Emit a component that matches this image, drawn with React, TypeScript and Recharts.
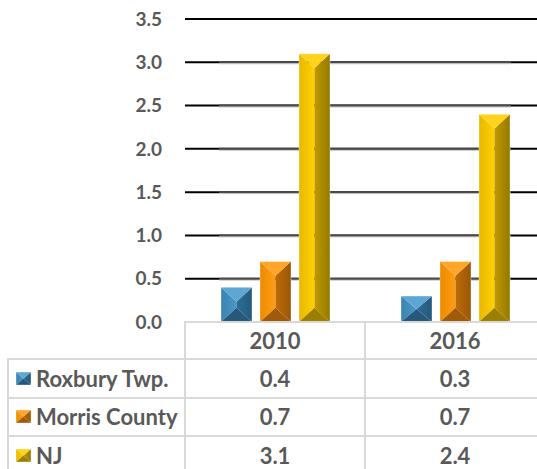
import React from 'react';
import { BarChart, Bar, XAxis, YAxis, CartesianGrid } from 'recharts';

const categories = ['2010', '2016'];
const seriesNames = ['Roxbury Twp.', 'Morris County', 'NJ'];
const roxbury = [0.4, 0.3];
const morris = [0.7, 0.7];
const nj = [3.1, 2.4];
const yTicks = [0, 0.5, 1.0, 1.5, 2.0, 2.5, 3.0, 3.5];

const seriesValues = [roxbury, morris, nj];
const keys = ['roxbury', 'morris', 'nj'];

const data = categories.map((c, i) => ({
  year: c,
  roxbury: roxbury[i],
  morris: morris[i],
  nj: nj[i],
}));

type Pal = { top: string; left: string; leftHi: string; right: string; rightDk: string; bottom: string };
const palettes: Pal[] = [
  { top: '#5ea6d4', left: '#3a83b2', leftHi: '#4b97c6', right: '#2d6d96', rightDk: '#245a7d', bottom: '#25587a' },
  { top: '#ffa52a', left: '#ec8a00', leftHi: '#ff9e14', right: '#bd6c08', rightDk: '#9a5606', bottom: '#a05a08' },
  { top: '#ffd21e', left: '#e8b800', leftHi: '#ffd000', right: '#c09a00', rightDk: '#957800', bottom: '#9c7e00' },
];

const TEXT = '#595959';
const LINE = '#d9d9d9';
const FONT = 'Lato, "Open Sans", sans-serif';

const Defs = () => (
  <defs>
    {palettes.map((p, i) => (
      <React.Fragment key={i}>
        <linearGradient id={`lg${i}`} x1="0" y1="0" x2="1" y2="0">
          <stop offset="0%" stopColor={p.left} />
          <stop offset="100%" stopColor={p.leftHi} />
        </linearGradient>
        <linearGradient id={`rg${i}`} x1="0" y1="0" x2="1" y2="0">
          <stop offset="0%" stopColor={p.right} />
          <stop offset="100%" stopColor={p.rightDk} />
        </linearGradient>
      </React.Fragment>
    ))}
  </defs>
);

const Bevel = ({ x, y, w, h, i }: { x: number; y: number; w: number; h: number; i: number }) => {
  const p = palettes[i];
  const d = Math.min(w * 0.46, h / 2);
  const cx = x + w / 2;
  return (
    <g>
      <polygon points={`${x},${y} ${cx},${y + d} ${cx},${y + h - d} ${x},${y + h}`} fill={`url(#lg${i})`} />
      <polygon points={`${x + w},${y} ${cx},${y + d} ${cx},${y + h - d} ${x + w},${y + h}`} fill={`url(#rg${i})`} />
      <polygon points={`${x},${y} ${x + w},${y} ${cx},${y + d}`} fill={p.top} />
      <polygon points={`${x},${y + h} ${x + w},${y + h} ${cx},${y + h - d}`} fill={p.bottom} />
      <rect x={x} y={y} width={w} height={h} fill="none" stroke="rgba(255,255,255,0.35)" strokeWidth={1} />
    </g>
  );
};

const makeShape = (i: number) => (props: any) => {
  const { x, y, width, height } = props;
  if (!height || height <= 0) return <g />;
  return <Bevel x={x} y={y} w={width} h={height} i={i} />;
};

const CHART_W = 545;
const CHART_H = 345;
const M_TOP = 19;
const M_BOTTOM = 23;
const PLOT_BOTTOM = CHART_H - M_BOTTOM;

const GridLine = (props: any) => {
  const { x1, x2, y1 } = props;
  if (y1 >= PLOT_BOTTOM - 1) return <g />;
  const isTop = y1 <= M_TOP + 1;
  return (
    <g>
      <line x1={x1} x2={x2} y1={y1} y2={y1} stroke="#000" strokeWidth={2} />
      {!isTop && (
        <>
          <line x1={x1 + 34} x2={x2 - 34} y1={y1} y2={y1} stroke="#4a4a4a" strokeWidth={2} />
          <line x1={x1 + 34} x2={x2 - 34} y1={y1 + 1.5} y2={y1 + 1.5} stroke="#c8c8c8" strokeWidth={1} />
        </>
      )}
    </g>
  );
};

const Key = ({ i }: { i: number }) => (
  <svg width={15} height={13} style={{ display: 'block' }}>
    <Defs />
    <Bevel x={0} y={0} w={15} h={13} i={i} />
  </svg>
);

const HEADER_TOP = 322;
const HEADER_H = 37;
const ROW_H = 38.5;
const COL_X = [185, 365];
const COL_W = 180;

export default function App() {
  return (
    <div
      style={{
        position: 'absolute',
        left: 0,
        top: 0,
        width: 537,
        height: 469,
        overflow: 'hidden',
        background: '#fff',
        fontFamily: FONT,
      }}
    >
      <div style={{ position: 'absolute', left: 0, top: 0 }}>
        <BarChart
          width={CHART_W}
          height={CHART_H}
          data={data}
          margin={{ top: M_TOP, right: 0, bottom: M_BOTTOM, left: 0 }}
          barSize={31}
          barGap={8}
        >
          <Defs />
          <CartesianGrid vertical={false} horizontal={GridLine as any} />
          <XAxis dataKey="year" hide />
          <YAxis
            width={185}
            domain={[0, 3.5]}
            ticks={yTicks}
            interval={0}
            tickFormatter={(v: number) => v.toFixed(1)}
            axisLine={false}
            tickLine={false}
            tickMargin={17}
            tick={{ fill: TEXT, fontSize: 19, fontWeight: 700, fontFamily: FONT }}
          />
          {keys.map((k, i) => (
            <Bar key={k} dataKey={k} name={seriesNames[i]} shape={makeShape(i)} isAnimationActive={false} />
          ))}
        </BarChart>
      </div>

      {/* table lines */}
      <div style={{ position: 'absolute', left: 184, top: 321, width: 370, height: 2, background: LINE }} />
      {[0, 1, 2].map((r) => (
        <div
          key={r}
          style={{
            position: 'absolute',
            left: 7,
            top: Math.round(HEADER_TOP + HEADER_H + r * ROW_H) - 1,
            width: 545,
            height: 2,
            background: LINE,
          }}
        />
      ))}
      <div style={{ position: 'absolute', left: 7, top: 358, width: 2, height: 120, background: LINE }} />
      {COL_X.map((x) => (
        <div key={x} style={{ position: 'absolute', left: x - 1, top: 321, width: 2, height: 160, background: LINE }} />
      ))}

      {/* header */}
      {categories.map((c, ci) => (
        <div
          key={c}
          style={{
            position: 'absolute',
            left: COL_X[ci],
            top: HEADER_TOP,
            width: COL_W,
            height: HEADER_H,
            display: 'flex',
            alignItems: 'center',
            justifyContent: 'center',
            color: TEXT,
            fontWeight: 700,
            fontSize: 22,
          }}
        >
          {c}
        </div>
      ))}

      {/* rows */}
      {seriesNames.map((name, ri) => {
        const top = HEADER_TOP + HEADER_H + ri * ROW_H;
        return (
          <React.Fragment key={name}>
            <div
              style={{
                position: 'absolute',
                left: 16,
                top,
                height: ROW_H,
                display: 'flex',
                alignItems: 'center',
                color: TEXT,
                fontWeight: 700,
                fontSize: 22,
                whiteSpace: 'nowrap',
              }}
            >
              <Key i={ri} />
              <span style={{ marginLeft: 5 }}>{name}</span>
            </div>
            {seriesValues[ri].map((v, ci) => (
              <div
                key={ci}
                style={{
                  position: 'absolute',
                  left: COL_X[ci],
                  top,
                  width: COL_W,
                  height: ROW_H,
                  display: 'flex',
                  alignItems: 'center',
                  justifyContent: 'center',
                  color: TEXT,
                  fontWeight: 700,
                  fontSize: 22,
                }}
              >
                {v.toFixed(1)}
              </div>
            ))}
          </React.Fragment>
        );
      })}
    </div>
  );
}
